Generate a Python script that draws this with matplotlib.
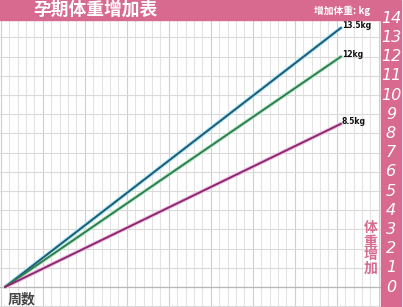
import matplotlib
matplotlib.use("Agg")
import matplotlib.pyplot as plt
from matplotlib.patches import Rectangle

plt.rcParams['font.family'] = ['Noto Sans CJK SC', 'DejaVu Sans']

# data
weeks = [0, 40]
gain_high = [0, 13.5]
gain_mid = [0, 12]
gain_low = [0, 8.5]
end_labels = ["13.5kg", "12kg", "8.5kg"]
kg_ticks = list(range(0, 15))

title = "孕期体重增加表"
unit_label = "增加体重: kg"
y_label = "体重增加"
x_label = "周数"

pink = "#d86a90"
line_colors = ["#1f5a7a", "#2e7d55", "#8c2a6e"]
halo_colors = ["#a8e8f0", "#c0ecc8", "#f0c0e4"]

W, H = 403, 307
fig = plt.figure(figsize=(W / 100, H / 100), dpi=100)

# main grid area: x 0..381 px, y 20..307 px (image coords)
ax = fig.add_axes([0, 0, 381 / W, 287 / H])
px_per_week = 8.4
px_per_kg = 19.2
ax.set_xlim(-5 / px_per_week, 376 / px_per_week)
ax.set_ylim(-20 / px_per_kg, 267 / px_per_kg)
ax.set_facecolor("white")
for s in ax.spines.values():
    s.set_visible(False)
ax.set_xticks([])
ax.set_yticks([])

# grid
for w in range(0, 46):
    c = "#cfcfcf" if w % 5 == 0 else "#e3e3e3"
    ax.axvline(w - 0.5, color=c, lw=0.8, zorder=1)
for k in range(-1, 15):
    ax.axhline(k, color="#dadada", lw=0.8, zorder=1)
ax.axhline(0, color="#b8b8b8", lw=0.9, zorder=1)

series = [gain_high, gain_mid, gain_low]
for vals, c, hc, lab in zip(series, line_colors, halo_colors, end_labels):
    ax.plot(weeks, vals, color=hc, lw=2.8, solid_capstyle="round", zorder=2)
    ax.plot(weeks, vals, color=c, lw=1.4, solid_capstyle="round", zorder=3)
    ax.text(weeks[-1] + 0.1, vals[-1] + 0.1, lab, fontsize=5.5, fontweight="bold",
            family="DejaVu Sans", color="#111111", ha="left", va="center", zorder=4)

ax.text(0.3, -0.3, x_label, fontsize=10, fontweight="bold", color="#444444",
        ha="left", va="top", zorder=4)
ax.text(43.5, 2.0, "\n".join(y_label), fontsize=10, fontweight="bold", color=pink,
        ha="center", va="center", linespacing=0.95, zorder=4)

# pink title bar and right strip
fig.patches.append(Rectangle((0, 1 - 20 / H), 400 / W, 20 / H, transform=fig.transFigure,
                             color=pink, zorder=0))
fig.patches.append(Rectangle((381 / W, 0), 20 / W, 1, transform=fig.transFigure,
                             color=pink, zorder=0))
fig.text(33 / W, 1 - 10 / H, title, fontsize=12.8, fontweight="bold", color="white",
         ha="left", va="center")
fig.text(342 / W, 1 - 11 / H, unit_label, fontsize=7, fontweight="bold", color="white",
         ha="center", va="center")

# kg numbers on the strip
for k in kg_ticks:
    yf = (20 + k * px_per_kg) / H
    fig.text(391 / W, yf, str(k), fontsize=11.5, color="white", ha="center", va="center",
             family="DejaVu Sans", style="italic")

fig.savefig("out.png", dpi=100)
